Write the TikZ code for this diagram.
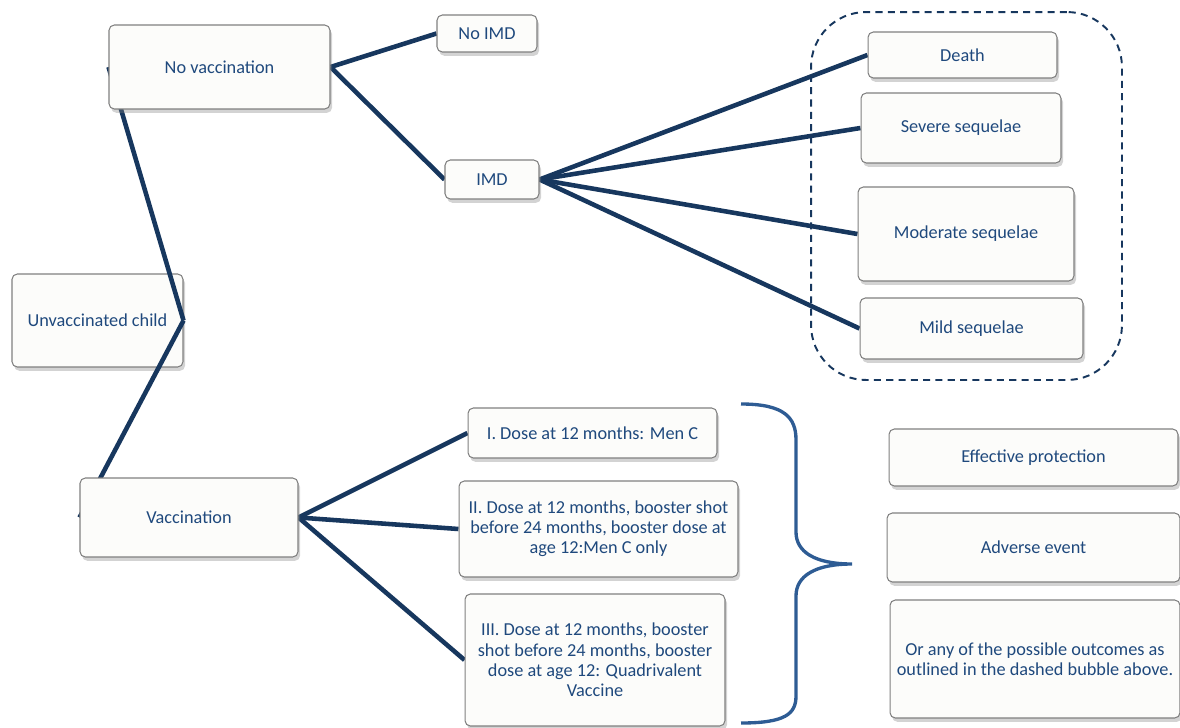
\documentclass[tikz,border=0pt]{standalone}
\usepackage{fontspec}
\setmainfont{Carlito}
\usepackage{tikz}
\usetikzlibrary{shadows}
\definecolor{navy}{HTML}{17375E}
\definecolor{textblue}{HTML}{1F497D}
\definecolor{braceblue}{HTML}{2E5C94}
\definecolor{boxfill}{HTML}{FCFCFA}
\pgfdeclarelayer{background}
\pgfsetlayers{background,main}
\tikzset{
  box/.style = {rectangle, rounded corners=3pt, draw=black!50, fill=boxfill,
    text=textblue, align=center, inner sep=2pt, line width=0.6pt,
    font=\fontsize{10.4}{11.5}\selectfont,
    drop shadow={shadow xshift=1.2pt, shadow yshift=-2.2pt, opacity=0.35}},
  link/.style = {navy, line width=2.6pt},
  bubble/.style = {draw=navy, line width=1.1pt, dash pattern=on 4pt off 3pt,
    rounded corners=1.1cm},
  curly/.style = {braceblue, line width=1.9pt},
}

\begin{document}
\begin{tikzpicture}[x=0.02cm, y=-0.02cm]
            \useasboundingbox (0,0) rectangle (1180,727);
            \node[bubble, minimum width=6.22cm, minimum height=7.36cm] (outcomes) at (966.5,196) {};
            \node[box, minimum width=4.42cm, minimum height=1.68cm] (novacc) at (219.5,67) {No vaccination};
            \node[box, minimum width=2.0cm, minimum height=0.74cm] (noimd) at (487,33.5) {No IMD};
            \node[box, minimum width=1.88cm, minimum height=0.78cm] (imd) at (492,179.5) {IMD};
            \node[box, minimum width=3.78cm, minimum height=0.92cm] (death) at (962.5,55) {Death};
            \node[box, minimum width=4.0cm, minimum height=1.4cm] (severe) at (961,128) {Severe sequelae};
            \node[box, minimum width=4.32cm, minimum height=1.88cm] (moderate) at (966,234) {Moderate sequelae};
            \node[box, minimum width=4.46cm, minimum height=1.22cm] (mild) at (971.5,328.5) {Mild sequelae};
            \node[box, minimum width=4.36cm, minimum height=1.58cm] (vacc) at (189,517.5) {Vaccination};
            \node[box, minimum width=4.98cm, minimum height=1.0cm] (doseone) at (592.5,433) {I. Dose at 12 months: Men C};
            \node[box, minimum width=5.58cm, minimum height=1.92cm] (dosetwo) at (598.5,529)
                {II. Dose at 12 months, booster shot\\before 24 months, booster dose at\\age 12:Men C only};
            \node[box, minimum width=5.2cm, minimum height=2.64cm] (dosethree) at (595,660)
                {III. Dose at 12 months, booster\\shot before 24 months, booster\\dose at age 12: Quadrivalent\\Vaccine};
            \node[box, minimum width=5.78cm, minimum height=1.14cm] (effect) at (1033.5,457.5) {Effective protection};
            \node[box, minimum width=5.86cm, minimum height=1.38cm] (adverse) at (1033.5,547.5) {Adverse event};
            \node[box, minimum width=5.8cm, minimum height=2.36cm] (orany) at (1035,659)
                {Or any of the possible outcomes as\\outlined in the dashed bubble above.};
            \draw[curly] (741,404) .. controls (785,404) and (796,418) .. (796,440)
                -- (796,532) .. controls (796,552) and (815,564) .. (852,564)
                .. controls (815,564) and (796,576) .. (796,596)
                -- (796,696) .. controls (796,714) and (785,723) .. (741,723);
            \begin{pgfonlayer}{background}
            \node[box, minimum width=3.42cm, minimum height=1.86cm] (child) at (97.5,320.5) {Unvaccinated child};
            \draw[link] (child.east) -- (novacc.west);
            \draw[link] (child.east) -- (vacc.west);
            \draw[link] (novacc.east) -- (noimd.west);
            \draw[link] (novacc.east) -- (imd.west);
            \draw[link] (imd.east) -- (death.west);
            \draw[link] (imd.east) -- (severe.west);
            \draw[link] (imd.east) -- (moderate.west);
            \draw[link] (imd.east) -- (mild.west);
            \draw[link] (vacc.east) -- (doseone.west);
            \draw[link] (vacc.east) -- (dosetwo.west);
            \draw[link] (vacc.east) -- (dosethree.west);
            \end{pgfonlayer}
\end{tikzpicture}
\end{document}
